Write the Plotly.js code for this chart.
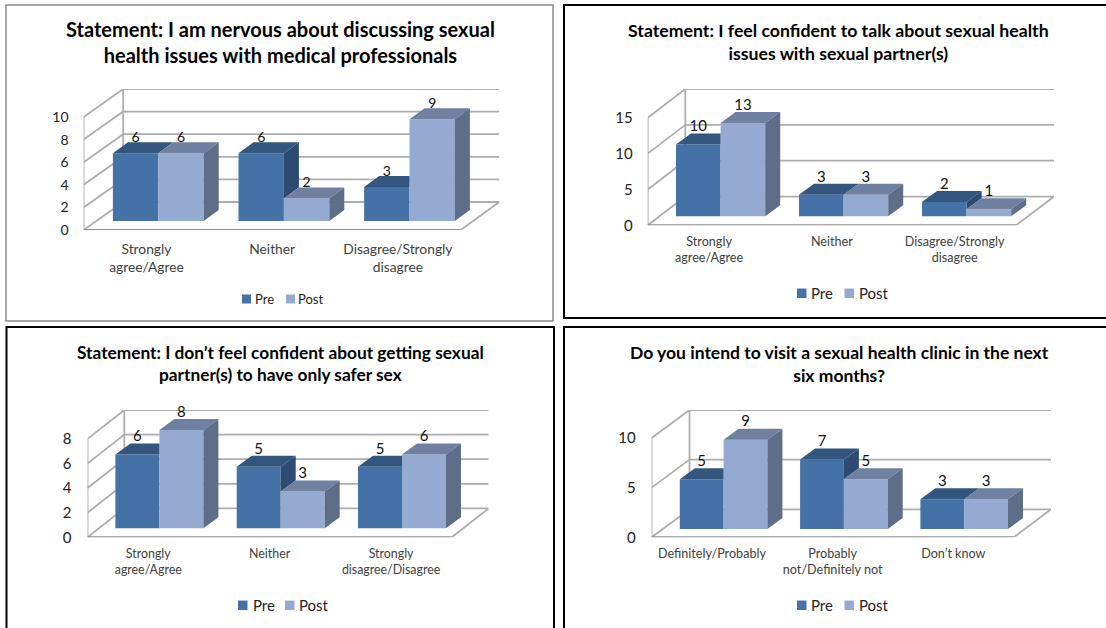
<!DOCTYPE html>
<html>
<head>
<meta charset="utf-8">
<script src="https://cdn.plot.ly/plotly-3.0.1.min.js"></script>
<style>html,body{margin:0;padding:0;background:#fff;overflow:hidden}</style>
</head>
<body>
<div id="chart" style="width:1106px;height:628px"></div>
<script>
// Survey responses before and after the session, one 3-D style column chart per statement.
const seriesNames = ['Pre', 'Post'];

const title1 = 'Statement: I am nervous about discussing sexual<br>health issues with medical professionals';
const categories1 = ['Strongly<br>agree/Agree', 'Neither', 'Disagree/Strongly<br>disagree'];
const pre1 = [6, 6, 3];
const post1 = [6, 2, 9];
const ticks1 = [0, 2, 4, 6, 8, 10];

const title2 = 'Statement: I feel confident to talk about sexual health<br>issues with sexual partner(s)';
const categories2 = ['Strongly<br>agree/Agree', 'Neither', 'Disagree/Strongly<br>disagree'];
const pre2 = [10, 3, 2];
const post2 = [13, 3, 1];
const ticks2 = [0, 5, 10, 15];

const title3 = 'Statement: I don’t feel confident about getting sexual<br>partner(s) to have only safer sex';
const categories3 = ['Strongly<br>agree/Agree', 'Neither', 'Strongly<br>disagree/Disagree'];
const pre3 = [6, 5, 5];
const post3 = [8, 3, 6];
const ticks3 = [0, 2, 4, 6, 8];

const title4 = 'Do you intend to visit a sexual health clinic in the next<br>six months?';
const categories4 = ['Definitely/Probably', 'Probably<br>not/Definitely not', 'Don’t know'];
const pre4 = [5, 7, 3];
const post4 = [9, 5, 3];
const ticks4 = [0, 5, 10];

const W = 1106, H = 628;
const colors = {
  preFront: '#4472A7', preTop: '#33567F', preSide: '#2D4A73',
  postFront: '#95AAD1', postTop: '#6F80A1', postSide: '#5E6E88',
  wall: '#ADADAD', floor: '#8F8F8F'
};

// Layout of each panel in page pixels: frame, wall corners, floor, bar placement, text sizes.
const panels = [
  { title: title1, cats: categories1, pre: pre1, post: post1, ticks: ticks1,
    frame: [6, 5, 553, 321], frameColor: '#8A8A8A', frameWidth: 1.5,
    left: 83.6, right: 460.7, backLeft: 123.2, backRight: 499.3, y0: 230, backTop: 89, unit: 11.3,
    barBottom: 221, barL: 112.9, barPitch: 125.6, barW: 45.4, depthX: 15, depthY: 11,
    titleX: 280.7, titleY: 42.2, titleSize: 20, tickSize: 14, catSize: 13.8, labelSize: 14, labelGap: 15,
    tickGap: 14, catGap: 9,
    legendY: 299, legendSize: 13, legend: [242, 255, 286, 298], swatch: 9 },
  { title: title2, cats: categories2, pre: pre2, post: post2, ticks: ticks2,
    frame: [564, 5, 1112, 318], frameColor: '#000000', frameWidth: 2,
    left: 647.7, right: 1016, backLeft: 685.3, backRight: 1054, y0: 225.3, backTop: 89, unit: 7.17,
    barBottom: 216.3, barL: 676, barPitch: 123, barW: 44.6, depthX: 15, depthY: 11,
    titleX: 838.4, titleY: 41.7, titleSize: 17.7, tickSize: 15, catSize: 12.6, labelSize: 15, labelGap: 17,
    tickGap: 14, catGap: 7,
    legendY: 293.3, legendSize: 15, legend: [797, 810.7, 844.5, 858.7], swatch: 9.5 },
  { title: title3, cats: categories3, pre: pre3, post: post3, ticks: ticks3,
    frame: [6.5, 327, 554, 640], frameColor: '#000000', frameWidth: 2,
    left: 87.5, right: 451.8, backLeft: 124.3, backRight: 488.6, y0: 537.3, backTop: 410, unit: 12.3,
    barBottom: 528.3, barL: 115.4, barPitch: 121.3, barW: 44, depthX: 15, depthY: 11,
    titleX: 280.4, titleY: 363.7, titleSize: 17.3, tickSize: 15, catSize: 12.4, labelSize: 15, labelGap: 17,
    tickGap: 15, catGap: 7,
    legendY: 605.3, legendSize: 15, legend: [238, 253, 285, 299.3], swatch: 9.5 },
  { title: title4, cats: categories4, pre: pre4, post: post4, ticks: ticks4,
    frame: [564, 327, 1112, 640], frameColor: '#000000', frameWidth: 2,
    left: 651.6, right: 1013.7, backLeft: 689.5, backRight: 1051, y0: 537.3, backTop: 410, unit: 9.93,
    barBottom: 529, barL: 679.8, barPitch: 120.3, barW: 43.8, depthX: 15, depthY: 11,
    titleX: 839, titleY: 363.7, titleSize: 17.5, tickSize: 15, catSize: 12.6, labelSize: 15, labelGap: 17,
    tickGap: 15, catGap: 7,
    legendY: 605.3, legendSize: 15, legend: [797, 810.7, 844.5, 858.7], swatch: 9.5 }
];

const font = 'Lato, "Open Sans", sans-serif';
const px = x => x / W;
const py = y => 1 - y / H;

const traces = [];
const layout = {
  width: W, height: H, margin: { l: 0, r: 0, t: 0, b: 0 },
  paper_bgcolor: '#ffffff', plot_bgcolor: 'rgba(0,0,0,0)',
  barmode: 'overlay', showlegend: false, font: { family: font, color: '#222222' },
  shapes: [], annotations: []
};

// One closed polygon per bar, joined with gaps so a single filled trace holds a whole face set.
function faceTrace(polys, color, xa, ya) {
  const xs = [], ys = [];
  polys.forEach(poly => {
    poly.forEach(p => { xs.push(p[0]); ys.push(p[1]); });
    xs.push(poly[0][0], null); ys.push(poly[0][1], null);
  });
  return { type: 'scatter', mode: 'lines', x: xs, y: ys, xaxis: xa, yaxis: ya, fill: 'toself',
           fillcolor: color, line: { width: 0 }, hoverinfo: 'skip', cliponaxis: false };
}

panels.forEach((p, n) => {
  const id = n === 0 ? '' : String(n + 1);
  const xa = 'x' + id, ya = 'y' + id;
  const catW = (p.right - p.left) / p.cats.length;
  const toX = v => v / catW;             // horizontal pixel length to axis units
  const toY = v => v / p.unit;           // vertical pixel length to axis units
  const top = p.ticks[p.ticks.length - 1];
  const wallX = toX(p.backLeft - p.left);
  const wallY = toY(p.y0 - p.backTop) - top;   // rise of the back wall above the front edge
  const backEnd = (p.backRight - p.left) / catW;
  const base = toY(p.y0 - p.barBottom);
  const width = toX(p.barW);
  const bx = toX(p.depthX), by = toY(p.depthY);

  layout['xaxis' + id] = {
    domain: [px(p.left), px(p.backRight)], range: [0, backEnd], anchor: ya,
    tickmode: 'array', tickvals: p.cats.map((c, i) => i + 0.5), ticktext: p.cats,
    showgrid: false, zeroline: false, showline: false, ticks: '', ticklabelstandoff: p.catGap,
    tickangle: 0, tickfont: { family: font, size: p.catSize, color: '#404040' }, fixedrange: true
  };
  layout['yaxis' + id] = {
    domain: [py(p.y0), py(p.backTop)], range: [0, toY(p.y0 - p.backTop)], anchor: xa,
    tickmode: 'array', tickvals: p.ticks, ticktext: p.ticks.map(String),
    showgrid: false, zeroline: false, showline: false, ticks: '', ticklabelstandoff: p.tickGap,
    tickfont: { family: font, size: p.tickSize, color: '#222222' }, fixedrange: true
  };

  // Horizontal position of each bar pair: the boundary between the Pre and Post column.
  const mid = p.cats.map((c, i) => toX(p.barL + i * p.barPitch + p.barW - p.left));
  [p.pre, p.post].forEach((vals, s) => {
    traces.push({
      type: 'bar', name: seriesNames[s], x: mid, y: vals, base: base, width: width,
      offset: s === 0 ? -width : 0, xaxis: xa, yaxis: ya, hoverinfo: 'skip',
      marker: { color: s === 0 ? colors.preFront : colors.postFront, line: { width: 0 } }
    });
  });

  // Receding faces. A Pre face stops where the neighbouring Post column would hide it.
  const preSide = [], preTop = [], postTop = [], postSide = [];
  mid.forEach((m, i) => {
    const a = p.pre[i], b = p.post[i];
    if (a > b) {
      preSide.push([[m, base + b], [m + bx, base + b + by], [m + bx, base + a + by], [m, base + a]]);
    }
    const reach = b > a ? m : m + bx;
    preTop.push([[m - width, base + a], [m - width + bx, base + a + by], [reach, base + a + by], [m, base + a]]);
    postTop.push([[m, base + b], [m + bx, base + b + by], [m + width + bx, base + b + by], [m + width, base + b]]);
    postSide.push([[m + width, base], [m + width + bx, base + by], [m + width + bx, base + b + by], [m + width, base + b]]);
  });
  traces.push(faceTrace(preSide, colors.preSide, xa, ya));
  traces.push(faceTrace(preTop, colors.preTop, xa, ya));
  traces.push(faceTrace(postTop, colors.postTop, xa, ya));
  traces.push(faceTrace(postSide, colors.postSide, xa, ya));

  // Value labels above each column.
  [p.pre, p.post].forEach((vals, s) => {
    traces.push({
      type: 'scatter', mode: 'text', xaxis: xa, yaxis: ya, hoverinfo: 'skip', cliponaxis: false,
      x: mid.map(m => m + (s === 0 ? -width / 2 : width / 2)),
      y: vals.map(v => base + v + toY(p.labelGap)),
      text: vals.map(String), textposition: 'middle center',
      textfont: { family: font, size: p.labelSize, color: '#111111' }
    });
  });

  // Frame around the panel.
  layout.shapes.push({
    type: 'rect', xref: 'paper', yref: 'paper', layer: 'below',
    x0: px(p.frame[0]), x1: px(p.frame[2]), y0: py(p.frame[3]), y1: py(p.frame[1]),
    line: { color: p.frameColor, width: p.frameWidth }, fillcolor: '#ffffff'
  });

  // Side wall, back wall grid and floor, all tied to the value axis.
  const seg = (x0, y0, x1, y1, color, w) => layout.shapes.push({
    type: 'line', xref: xa, yref: ya, layer: 'below', x0, y0, x1, y1,
    line: { color, width: w }
  });
  p.ticks.forEach(t => {
    seg(0, t, wallX, t + wallY, colors.wall, 1.8);
    seg(wallX, t + wallY, backEnd, t + wallY, colors.wall, 1.8);
  });
  seg(0, 0, 0, top, colors.wall, 1.8);
  seg(wallX, wallY, wallX, top + wallY, colors.wall, 1.8);
  seg(0, 0, p.cats.length, 0, colors.floor, 2);
  seg(p.cats.length, 0, backEnd, wallY, colors.wall, 1.8);

  // Heading.
  layout.annotations.push({
    xref: 'paper', yref: 'paper', x: px(p.titleX), y: py(p.titleY), xanchor: 'center', yanchor: 'middle',
    text: '<b>' + p.title + '</b>', showarrow: false, align: 'center',
    font: { family: font, size: p.titleSize, color: '#000000' }
  });

  // Key: two small swatches, each followed by its series name.
  seriesNames.forEach((name, s) => {
    const sx = p.legend[s * 2], tx = p.legend[s * 2 + 1];
    layout.shapes.push({
      type: 'rect', xref: 'paper', yref: 'paper', layer: 'above',
      x0: px(sx), x1: px(sx + p.swatch), y0: py(p.legendY + p.swatch / 2), y1: py(p.legendY - p.swatch / 2),
      line: { width: 0 }, fillcolor: s === 0 ? colors.preFront : colors.postFront
    });
    layout.annotations.push({
      xref: 'paper', yref: 'paper', x: px(tx), y: py(p.legendY), xanchor: 'left', yanchor: 'middle',
      text: name, showarrow: false, xshift: -2,
      font: { family: font, size: p.legendSize, color: '#222222' }
    });
  });
});

Plotly.newPlot('chart', traces, layout, { staticPlot: true, displayModeBar: false });
</script>
</body>
</html>
